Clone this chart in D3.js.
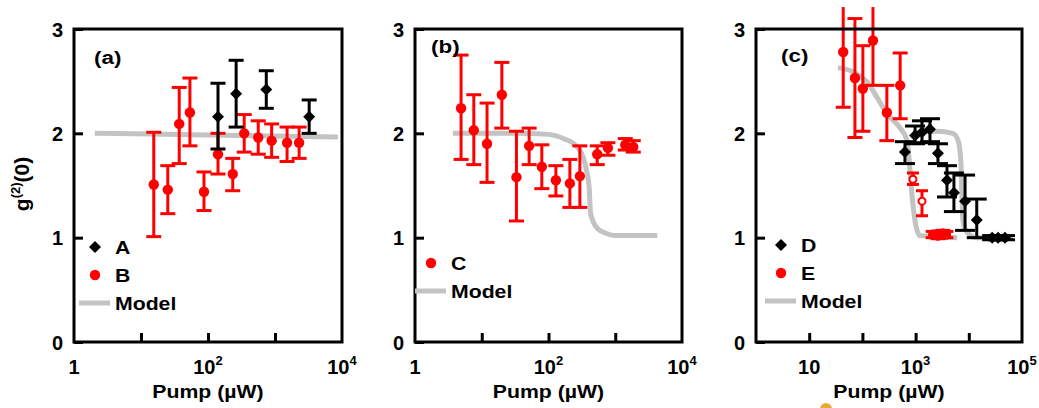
<!DOCTYPE html>
<html>
<head>
<meta charset="utf-8">
<script src="https://cdn.jsdelivr.net/npm/d3@7"></script>
<style>
  body { margin: 0; background: #fff; }
  svg { display: block; }
  text { font-family: "Liberation Sans", Arial, sans-serif; font-weight: bold; fill: #000; }
</style>
</head>
<body>
<svg id="chart" width="1039" height="408"></svg>
<script>
// ---- panel (a) ----
const pumpA = [141, 263, 741, 3236];
const gA = [2.16, 2.38, 2.42, 2.16];
const gA_lo = [1.85, 2.06, 2.24, 2.00];
const gA_hi = [2.48, 2.70, 2.60, 2.32];

const pumpB = [15.5, 25.1, 37.2, 53.7, 87.1, 141, 234, 347, 562, 891, 1514, 2291];
const gB = [1.51, 1.46, 2.09, 2.20, 1.44, 1.80, 1.61, 2.00, 1.96, 1.93, 1.91, 1.91];
const gB_lo = [1.01, 1.23, 1.71, 1.88, 1.26, 1.61, 1.45, 1.82, 1.80, 1.77, 1.73, 1.76];
const gB_hi = [2.01, 1.69, 2.44, 2.53, 1.63, 2.00, 1.76, 2.18, 2.12, 2.09, 2.06, 2.06];

const modelA_pump = [2.04, 100, 8710];
const modelA_g = [2.00, 1.985, 1.965];

// ---- panel (b) ----
const pumpC = [4.9, 7.6, 12.0, 20.0, 33.1, 51.3, 79.4, 129, 209, 295, 537, 776, 1413, 1862];
const gC = [2.24, 2.03, 1.90, 2.37, 1.58, 1.88, 1.68, 1.55, 1.52, 1.59, 1.80, 1.86, 1.89, 1.87];
const gC_lo = [1.75, 1.70, 1.53, 2.05, 1.16, 1.70, 1.47, 1.40, 1.29, 1.29, 1.70, 1.79, 1.84, 1.82];
const gC_hi = [2.75, 2.37, 2.29, 2.68, 2.02, 2.05, 1.89, 1.69, 1.75, 1.88, 1.88, 1.91, 1.95, 1.93];

const modelB_pump = [3.7, 31.6, 100, 166, 269, 331, 380, 407, 427, 537, 741, 1000, 4266];
const modelB_g = [2.00, 2.00, 1.99, 1.95, 1.87, 1.77, 1.61, 1.48, 1.23, 1.09, 1.04, 1.02, 1.02];

// ---- panel (c) ----
const pumpD = [631, 977, 1318, 1862, 2630, 3890, 5250, 8510, 14100, 27500, 35500, 47900];
const gD = [1.82, 1.98, 2.01, 2.04, 1.81, 1.55, 1.43, 1.35, 1.17, 1.00, 1.00, 1.00];
const gD_lo = [1.71, 1.90, 1.91, 1.92, 1.71, 1.39, 1.25, 1.07, 1.00, 0.98, 0.98, 0.98];
const gD_hi = [1.92, 2.07, 2.12, 2.14, 1.90, 1.69, 1.62, 1.60, 1.37, 1.02, 1.02, 1.02];

const pumpE = [43.6, 72.4, 102, 158, 288, 513, 2138, 2630, 3236, 3715];
const gE = [2.78, 2.53, 2.43, 2.89, 2.20, 2.46, 1.03, 1.02, 1.04, 1.03];
const gE_lo = [2.25, 1.96, 2.02, 2.46, 1.93, 2.14, 1.00, 0.99, 1.01, 1.00];
const gE_hi = [3.21, 3.10, 2.84, 3.21, 2.46, 2.77, 1.06, 1.05, 1.07, 1.06];

// open symbols in (c)
const pumpEopen = [891, 1318];
const gEopen = [1.56, 1.35];
const gEopen_lo = [1.51, 1.21];
const gEopen_hi = [1.62, 1.45];

const modelD_pump = [891, 2512, 5012, 6310, 7079, 7413, 7762, 9333, 14125, 67608];
const modelD_g = [2.00, 2.02, 2.00, 1.93, 1.74, 1.42, 1.16, 1.05, 1.00, 1.00];
const modelE_pump = [34.7, 66.1, 123, 186, 288, 513, 692, 759, 851, 977, 1202, 6026];
const modelE_g = [2.63, 2.59, 2.49, 2.35, 2.19, 2.05, 1.93, 1.74, 1.42, 1.16, 1.02, 1.00];

const yTicks = [0, 1, 2, 3];

const RED = "#ff0000", GRAY = "#c3c3c3";
const svg = d3.select("#chart");
svg.append("rect").attr("width", 1039).attr("height", 408).attr("fill", "#fff");

function wideText(g, x, y, str, size, anchor) {
  return g.append("text")
    .attr("transform", "translate(" + x + "," + y + ") scale(1.18,1)")
    .attr("text-anchor", anchor || "start")
    .attr("font-size", size)
    .text(str);
}

const diamond = d3.symbol(d3.symbolSquare, 72)();

function drawPanel(p) {
  const x = d3.scaleLog().domain(p.domain).range([p.left, p.right]);
  const y = d3.scaleLinear().domain([0, 3]).range([342, 29]);
  const g = svg.append("g");

  // model curves
  p.models.forEach(m => {
    g.append("path")
      .datum(d3.zip(m.x, m.y))
      .attr("d", d3.line().x(d => x(d[0])).y(d => y(d[1])).curve(d3.curveMonotoneX))
      .attr("fill", "none")
      .attr("stroke", GRAY)
      .attr("stroke-width", 5);
  });

  // data with error bars
  p.series.forEach(s => {
    const rows = s.x.map((v, i) => ({ x: v, y: s.y[i], lo: s.lo[i], hi: s.hi[i] }));
    const sg = g.append("g").attr("stroke", s.color).attr("stroke-width", 3);
    sg.selectAll(".bar").data(rows).join("line")
      .attr("x1", d => x(d.x)).attr("x2", d => x(d.x))
      .attr("y1", d => y(d.lo)).attr("y2", d => y(d.hi));
    sg.selectAll(".capLo").data(rows).join("line")
      .attr("x1", d => x(d.x) - s.cap / 2).attr("x2", d => x(d.x) + s.cap / 2)
      .attr("y1", d => y(d.lo)).attr("y2", d => y(d.lo));
    // top caps that fall off the picture are not drawn
    sg.selectAll(".capHi").data(rows.filter(d => d.hi < 3.15)).join("line")
      .attr("x1", d => x(d.x) - s.cap / 2).attr("x2", d => x(d.x) + s.cap / 2)
      .attr("y1", d => y(d.hi)).attr("y2", d => y(d.hi));

    const mg = g.append("g");
    if (s.shape === "diamond") {
      mg.selectAll("path").data(rows).join("path")
        .attr("d", diamond)
        .attr("transform", d => "translate(" + x(d.x) + "," + y(d.y) + ") rotate(45)")
        .attr("fill", s.color);
    } else if (s.shape === "open") {
      mg.selectAll("circle").data(rows).join("circle")
        .attr("cx", d => x(d.x)).attr("cy", d => y(d.y)).attr("r", 3.5)
        .attr("fill", "#fff").attr("stroke", s.color).attr("stroke-width", 2);
    } else {
      mg.selectAll("circle").data(rows).join("circle")
        .attr("cx", d => x(d.x)).attr("cy", d => y(d.y)).attr("r", 5.2)
        .attr("fill", s.color);
    }
  });

  // frame
  g.append("rect")
    .attr("x", p.left).attr("y", 29)
    .attr("width", p.right - p.left).attr("height", 313)
    .attr("fill", "none").attr("stroke", "#000").attr("stroke-width", 3);

  // axes (inward ticks)
  const xa = g.append("g").attr("transform", "translate(0,342)")
    .call(d3.axisBottom(x).tickValues(p.ticks).tickSize(-9).tickSizeOuter(0).tickFormat(""));
  xa.select(".domain").remove();
  xa.selectAll("line").attr("stroke-width", 3);

  const ya = g.append("g").attr("transform", "translate(" + p.left + ",0)")
    .call(d3.axisLeft(y).tickValues(yTicks).tickSize(-9).tickSizeOuter(0).tickPadding(11).tickFormat(d3.format("d")));
  ya.select(".domain").remove();
  ya.selectAll("line").attr("stroke-width", 3);
  ya.selectAll("text").attr("font-size", 20).attr("font-family", null).attr("dy", "0.36em");

  // x tick labels with exponents
  p.labels.forEach((lab, i) => {
    const t = g.append("text")
      .attr("x", x(p.labelValues[i])).attr("y", 374)
      .attr("text-anchor", "middle").attr("font-size", 20);
    t.append("tspan").text(lab[0]);
    if (lab[1]) t.append("tspan").attr("font-size", 13).attr("dy", -9).text(lab[1]);
  });

  wideText(g, (p.left + p.right) / 2, 398, "Pump (\u00b5W)", 18, "middle");
  wideText(g, p.tag[1], p.tag[2], p.tag[0], 19, "start");

  // legend
  p.legend.forEach((e, i) => {
    const ly = p.legendY[i];
    if (e.shape === "diamond") {
      g.append("path").attr("d", diamond)
        .attr("transform", "translate(" + p.legendX + "," + ly + ") rotate(45)").attr("fill", e.color);
    } else if (e.shape === "circle") {
      g.append("circle").attr("cx", p.legendX).attr("cy", ly).attr("r", 5.2).attr("fill", e.color);
    } else {
      g.append("line").attr("x1", p.legendX - 16).attr("x2", p.legendX + 15)
        .attr("y1", ly).attr("y2", ly).attr("stroke", GRAY).attr("stroke-width", 5);
    }
    wideText(g, p.legendX + 20, ly + 7, e.label, 18, "start");
  });
}

drawPanel({
  left: 74, right: 342, domain: [1, 1e4],
  ticks: [10, 100, 1000], labelValues: [1, 100, 1e4], labels: [["1", ""], ["10", "2"], ["10", "4"]],
  tag: ["(a)", 94, 64],
  models: [{ x: modelA_pump, y: modelA_g }],
  series: [
    { x: pumpB, y: gB, lo: gB_lo, hi: gB_hi, color: RED, shape: "circle", cap: 15 },
    { x: pumpA, y: gA, lo: gA_lo, hi: gA_hi, color: "#000", shape: "diamond", cap: 15 }
  ],
  legendX: 95, legendY: [247, 275, 303],
  legend: [{ shape: "diamond", color: "#000", label: "A" }, { shape: "circle", color: RED, label: "B" }, { shape: "line", label: "Model" }]
});

drawPanel({
  left: 415, right: 682, domain: [1, 1e4],
  ticks: [10, 100, 1000], labelValues: [1, 100, 1e4], labels: [["1", ""], ["10", "2"], ["10", "4"]],
  tag: ["(b)", 431, 53],
  models: [{ x: modelB_pump, y: modelB_g }],
  series: [
    { x: pumpC, y: gC, lo: gC_lo, hi: gC_hi, color: RED, shape: "circle", cap: 15 }
  ],
  legendX: 431, legendY: [263, 291],
  legend: [{ shape: "circle", color: RED, label: "C" }, { shape: "line", label: "Model" }]
});

drawPanel({
  left: 756, right: 1022, domain: [1, 1e5],
  ticks: [10, 100, 1000, 1e4], labelValues: [10, 1000, 1e5], labels: [["10", ""], ["10", "3"], ["10", "5"]],
  tag: ["(c)", 781, 62],
  models: [{ x: modelE_pump, y: modelE_g }, { x: modelD_pump, y: modelD_g }],
  series: [
    { x: pumpE, y: gE, lo: gE_lo, hi: gE_hi, color: RED, shape: "circle", cap: 15 },
    { x: pumpEopen, y: gEopen, lo: gEopen_lo, hi: gEopen_hi, color: RED, shape: "open", cap: 12 },
    { x: pumpD, y: gD, lo: gD_lo, hi: gD_hi, color: "#000", shape: "diamond", cap: 20 }
  ],
  legendX: 781, legendY: [245, 273, 301],
  legend: [{ shape: "diamond", color: "#000", label: "D" }, { shape: "circle", color: RED, label: "E" }, { shape: "line", label: "Model" }]
});

// y axis title g^(2)(0)
const yt = svg.append("text")
  .attr("transform", "translate(29,184) rotate(-90)")
  .attr("text-anchor", "middle").attr("font-size", 21);
yt.append("tspan").text("g");
yt.append("tspan").attr("font-size", 13).attr("dy", -9).text("(2)");
yt.append("tspan").attr("dy", 9).text("(0)");

// stray orange dot at the bottom edge of the original picture
svg.append("circle").attr("cx", 826).attr("cy", 409).attr("r", 6).attr("fill", "#e8a93a");
</script>
</body>
</html>
